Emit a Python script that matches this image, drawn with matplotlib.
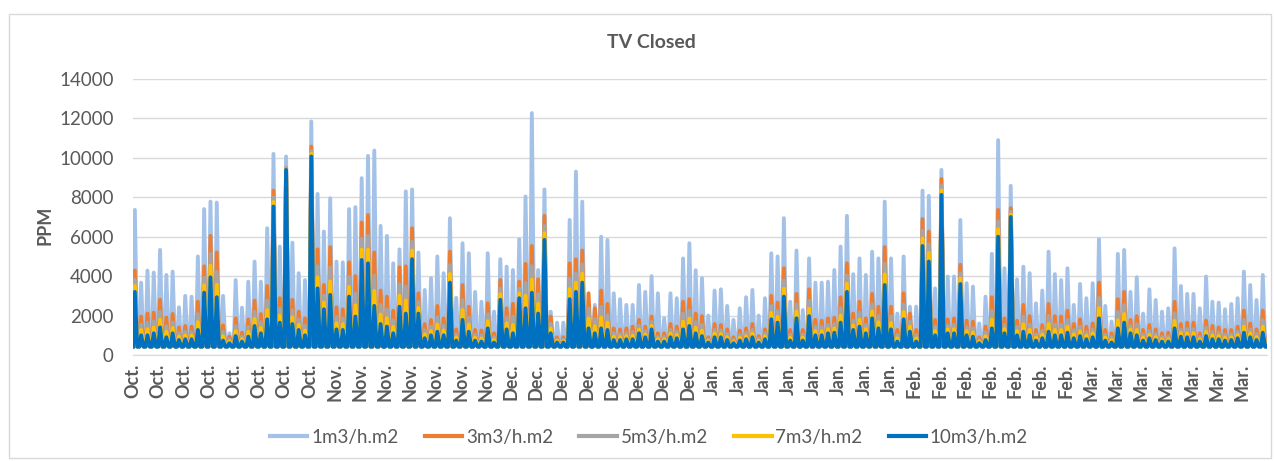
import matplotlib
matplotlib.use('Agg')
import matplotlib.pyplot as plt
from matplotlib.patches import Rectangle
import numpy as np

# daily peak CO2 (ppm), 2 Oct -> 30 Mar, one value per day
peak_1m3 = [7360, 3670, 4280, 4180, 5330, 4060, 4230, 2420, 3000, 2960,
            5000, 7400, 7780, 7730, 3000, 1100, 3800, 2400, 3720, 4740,
            3720, 6430, 10200, 5500, 10070, 5700, 4150, 3800, 11850, 8170,
            6260, 7950, 4740, 4700, 7400, 7500, 8970, 10100, 10370, 6550,
            6040, 4650, 5360, 8300, 8400, 5200, 3300, 3900, 5000, 4150,
            6940, 2900, 5670, 5160, 3200, 2700, 5160, 2200, 4860, 4480,
            4310, 5870, 8040, 12270, 4310, 8400, 2200, 1640, 1640, 6850,
            9300, 7780, 2280, 2540, 6000, 5840, 3130, 2830, 2540, 2540,
            3550, 3200, 4000, 3130, 1860, 3130, 2880, 4900, 5670, 4300,
            3900, 2000, 3270, 3330, 2490, 1780, 2370, 2930, 3300, 2000,
            2880, 5160, 5000, 6940, 2700, 5300, 2280, 4900, 3670, 3670,
            3720, 4310, 5500, 7060, 4100, 4900, 4060, 5240, 4900, 7780,
            4900, 2100, 5000, 2450, 2450, 8340, 8070, 3380, 9390, 3980,
            3980, 6850, 3640, 3470, 1600, 2960, 5130, 10900, 4400, 8580,
            3840, 4480, 4150, 2620, 3270, 5240, 4100, 3800, 4400, 2540,
            3600, 2880, 3640, 5870, 2490, 1700, 5130, 5330, 3200, 3940,
            2100, 3330, 2790, 2200, 2370, 5410, 3500, 3100, 3100, 2370,
            3980, 2700, 2660, 2320, 2590, 2880, 4230, 3550, 2790, 4060]

peak_3m3 = [4280, 1950, 2100, 2150, 2800, 1900, 2080, 1400, 1470, 1440,
            2700, 4500, 6040, 5200, 1500, 930, 1860, 1130, 1810, 2760,
            2080, 3500, 8340, 2880, 9480, 2800, 2200, 1860, 10570, 5360,
            3550, 5470, 2420, 2320, 4700, 4000, 6720, 7100, 5200, 3270,
            2960, 2250, 4450, 4500, 6430, 3130, 1570, 1780, 2490, 1860,
            5240, 1300, 3550, 2450, 1270, 1240, 2620, 1100, 3800, 2370,
            2590, 3720, 4620, 5530, 3840, 7060, 1950, 900, 900, 4650,
            4860, 5300, 3130, 2370, 3270, 2590, 1350, 1300, 1350, 1440,
            1780, 1440, 1950, 1100, 1100, 1570, 1440, 2700, 2830, 2100,
            1970, 900, 1570, 1520, 1300, 900, 1240, 1350, 1570, 960,
            1300, 3000, 2660, 4400, 1270, 3100, 1270, 3330, 1780, 1740,
            1860, 1900, 2930, 4650, 2100, 2700, 1860, 3100, 2450, 5470,
            2450, 1270, 3130, 2100, 1270, 6900, 6260, 1780, 8930, 1810,
            1860, 4570, 1740, 1690, 900, 1440, 2930, 7360, 1860, 7450,
            1740, 2540, 1970, 1270, 1520, 2590, 1970, 1950, 2250, 1570,
            1810, 1440, 1600, 3670, 1270, 1100, 2830, 3200, 1780, 1970,
            1270, 1520, 1300, 1100, 1130, 2700, 1570, 1640, 1640, 1100,
            1740, 1470, 1400, 1270, 1270, 1440, 2250, 1600, 1300, 2250]

peak_5m3 = [3820, 1540, 1630, 1700, 2200, 1470, 1660, 1120, 1180, 1160,
            2080, 3920, 5140, 4220, 1170, 790, 1470, 940, 1430, 2200,
            1660, 2770, 7990, 2350, 9440, 2270, 1800, 1490, 10350, 4510,
            3020, 4430, 1940, 1870, 3950, 3120, 5900, 6050, 4030, 2540,
            2310, 1760, 3590, 3470, 5750, 2690, 1260, 1440, 1930, 1490,
            4560, 1050, 2790, 1900, 1040, 1000, 2070, 900, 3370, 1910,
            1950, 3360, 3650, 4510, 3090, 6540, 1580, 780, 780, 3870,
            4150, 4600, 2360, 1820, 2440, 2020, 1100, 1070, 1110, 1160,
            1490, 1210, 1670, 920, 920, 1280, 1190, 2100, 2250, 1670,
            1540, 780, 1280, 1250, 1070, 770, 1020, 1110, 1280, 820,
            1090, 2490, 2220, 3780, 1040, 2570, 1040, 2750, 1440, 1420,
            1530, 1570, 2380, 4030, 1740, 2160, 1530, 2570, 1980, 4640,
            1960, 1020, 2560, 1700, 1020, 6310, 5610, 1440, 8580, 1500,
            1530, 4150, 1420, 1360, 770, 1150, 2250, 6780, 1530, 7260,
            1420, 1960, 1550, 1040, 1230, 1980, 1550, 1540, 1770, 1260,
            1440, 1160, 1300, 2890, 1040, 900, 2190, 2530, 1490, 1550,
            1040, 1230, 1070, 920, 940, 2120, 1290, 1320, 1320, 920,
            1400, 1180, 1140, 1040, 1050, 1190, 1770, 1300, 1070, 1770]

peak_7m3 = [3500, 1270, 1310, 1390, 1790, 1180, 1370, 940, 990, 980,
            1670, 3540, 4530, 3570, 950, 690, 1210, 810, 1180, 1830,
            1370, 2280, 7760, 1990, 9420, 1910, 1530, 1240, 10210, 3930,
            2660, 3730, 1610, 1560, 3450, 2520, 5350, 5340, 3250, 2050,
            1870, 1420, 3010, 2770, 5300, 2390, 1050, 1220, 1550, 1240,
            4110, 890, 2280, 1540, 880, 840, 1710, 760, 3080, 1600,
            1520, 3120, 3000, 3820, 2590, 6180, 1340, 710, 710, 3340,
            3660, 4130, 1850, 1460, 1890, 1640, 930, 910, 950, 980,
            1290, 1050, 1480, 800, 800, 1090, 1020, 1690, 1850, 1380,
            1240, 710, 1090, 1070, 910, 680, 870, 950, 1090, 720,
            940, 2140, 1930, 3360, 880, 2210, 880, 2350, 1220, 1210,
            1310, 1350, 2000, 3610, 1500, 1790, 1310, 2210, 1660, 4090,
            1620, 850, 2180, 1440, 850, 5910, 5170, 1220, 8350, 1300,
            1310, 3870, 1210, 1140, 680, 950, 1790, 6380, 1310, 7130,
            1210, 1560, 1270, 880, 1040, 1570, 1270, 1270, 1440, 1050,
            1200, 980, 1100, 2370, 880, 760, 1760, 2080, 1290, 1270,
            880, 1040, 910, 800, 810, 1730, 1110, 1110, 1110, 800,
            1180, 990, 970, 880, 900, 1020, 1440, 1100, 910, 1440]

peak_10m3 = [3200, 1000, 1000, 1100, 1400, 900, 1100, 760, 800, 800,
             1270, 3160, 3940, 2930, 730, 600, 960, 680, 930, 1470,
             1100, 1810, 7530, 1640, 9390, 1570, 1270, 1000, 10070, 3380,
             2320, 3050, 1300, 1270, 2960, 1950, 4820, 4650, 2490, 1570,
             1440, 1100, 2450, 2100, 4860, 2100, 850, 1000, 1180, 1000,
             3670, 730, 1780, 1180, 730, 680, 1350, 630, 2800, 1300,
             1100, 2880, 2370, 3160, 2100, 5840, 1100, 630, 630, 2830,
             3200, 3670, 1350, 1100, 1350, 1270, 760, 760, 800, 800,
             1100, 900, 1300, 680, 680, 900, 850, 1300, 1470, 1100,
             960, 630, 900, 900, 760, 600, 730, 800, 900, 630,
             800, 1810, 1640, 2960, 730, 1860, 730, 1970, 1000, 1000,
             1100, 1130, 1640, 3200, 1270, 1440, 1100, 1860, 1350, 3550,
             1300, 680, 1810, 1180, 680, 5530, 4740, 1000, 8120, 1100,
             1100, 3600, 1000, 930, 600, 760, 1350, 6000, 1100, 7000,
             1000, 1180, 1000, 730, 850, 1180, 1000, 1000, 1130, 850,
             960, 800, 900, 1860, 730, 630, 1350, 1640, 1100, 1000,
             730, 850, 760, 680, 680, 1350, 930, 900, 900, 680,
             960, 800, 800, 730, 760, 850, 1130, 900, 760, 1130]

# night-time level each series falls back to (ppm)
base_level = {'1m3/h.m2': 470, '3m3/h.m2': 450, '5m3/h.m2': 440,
              '7m3/h.m2': 430, '10m3/h.m2': 420}

series_names = ['1m3/h.m2', '3m3/h.m2', '5m3/h.m2', '7m3/h.m2', '10m3/h.m2']
series_peaks = [peak_1m3, peak_3m3, peak_5m3, peak_7m3, peak_10m3]
colors = ['#A4C2E8', '#ED7D31', '#A5A5A5', '#FFC000', '#0070C0']

# one label every 96 hours
tick_labels = (['Oct.'] * 8 + ['Nov.'] * 7 + ['Dec.'] * 8 +
               ['Jan.'] * 8 + ['Feb.'] * 7 + ['Mar.'] * 7)

plt.rcParams['font.family'] = ['Lato', 'DejaVu Sans']
txt = '#595959'

fig = plt.figure(figsize=(12.74, 4.61), dpi=100)
ax = fig.add_axes([133 / 1274, 1 - 355 / 461, (1267 - 133) / 1274, (355 - 79) / 461])

n_days = len(peak_1m3)
hours = (np.arange(n_days)[:, None] * 24 + np.array([0, 7, 16])).ravel()
hours = np.append(hours, n_days * 24 - 1)

for name, pk, c in zip(series_names, series_peaks, colors):
    b = base_level[name]
    vals = np.column_stack([np.full(n_days, b), pk, np.full(n_days, b)]).ravel()
    vals = np.append(vals, b)
    ax.plot(hours, vals, color=c, lw=2.8, label=name, solid_joinstyle='round')

ax.set_xlim(0, n_days * 24 - 1)
ax.set_ylim(0, 14000)
ax.set_yticks(np.arange(0, 14001, 2000))
ax.set_xticks(np.arange(len(tick_labels)) * 96)
ax.set_xticklabels(tick_labels, rotation=90, fontsize=13, fontweight='bold', color=txt)
ax.tick_params(axis='y', labelsize=13.5, colors=txt, length=0, pad=14)
ax.tick_params(axis='x', length=0, pad=6)
ax.grid(True, axis='y', color='#D9D9D9', lw=1)
ax.set_axisbelow(True)
for s in ['top', 'right', 'left']:
    ax.spines[s].set_visible(False)
ax.spines['bottom'].set_color('#D9D9D9')

fig.text(651 / 1274, 1 - 42 / 461, 'TV Closed', ha='center', va='center',
         fontsize=14, fontweight='bold', color=txt)
fig.text(45 / 1274, 1 - 225 / 461, 'PPM', ha='center', va='center', rotation=90,
         fontsize=13, fontweight='bold', color=txt)

leg = fig.legend(loc='center', bbox_to_anchor=(649 / 1274, 1 - 437 / 461), ncol=5,
                 frameon=False, fontsize=13.5, handlelength=2.0, handletextpad=0.2,
                 columnspacing=1.4)
for t in leg.get_texts():
    t.set_color(txt)
for h in leg.get_lines():
    h.set_linewidth(3)

fig.patches.append(Rectangle((9 / 1274, 3 / 461), 1262 / 1274, 444 / 461,
                             transform=fig.transFigure, fill=False,
                             edgecolor='#D9D9D9', lw=1))

fig.savefig('out.png', dpi=100)
